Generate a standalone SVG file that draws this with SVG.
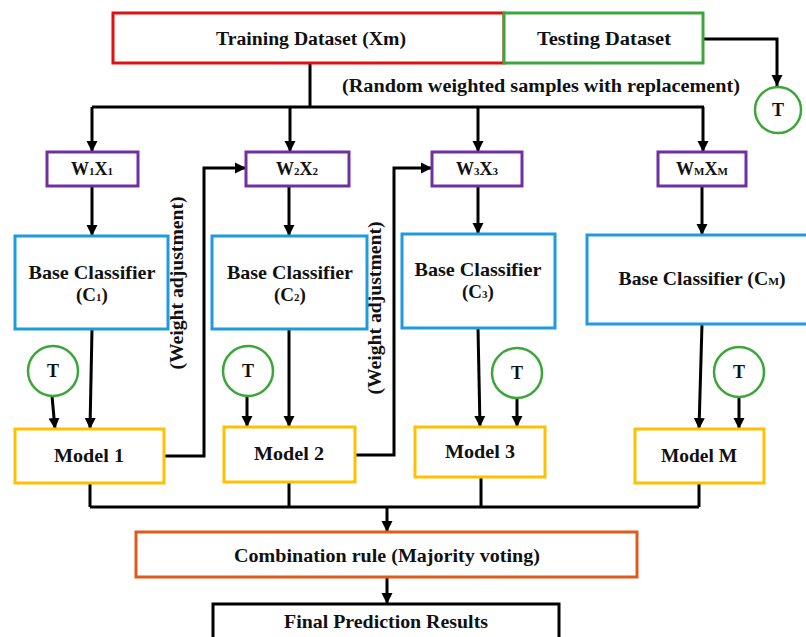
<svg xmlns="http://www.w3.org/2000/svg" width="806" height="637" viewBox="0 0 806 637">
<defs>
<marker id="ah" markerUnits="userSpaceOnUse" markerWidth="12" markerHeight="12" refX="11" refY="6" orient="auto">
<path d="M0,0.5 L11,6 L0,11.5 z" fill="#000"/>
</marker>
<style>
text{font-family:"Liberation Serif","DejaVu Serif",serif;font-weight:bold;fill:#111;}
.box{fill:#fff;stroke-width:3;}
.red{stroke:#E01010;}
.green{stroke:#3DA63A;}
.purple{stroke:#7030A0;}
.blue{stroke:#1E9BDE;}
.gold{stroke:#FFC000;}
.orange{stroke:#E05A1C;}
.black{stroke:#000;}
.tc{fill:#fff;stroke:#3DA63A;stroke-width:2.5;}
.c{fill:none;stroke:#000;stroke-width:3;}
.a{fill:none;stroke:#000;stroke-width:3;marker-end:url(#ah);}
.t17{font-size:18px;text-anchor:middle;}
.t18{font-size:19px;text-anchor:middle;}
.sub{font-size:11px;}
</style>
</defs>

<g id="connectors">
<path class="a" d="M703,39 H777 V86"/>
<path class="c" d="M310,63 V107"/>
<path class="c" d="M92,107 H704"/>
<path class="a" d="M92,107 V152"/>
<path class="a" d="M290,107 V152"/>
<path class="a" d="M478,107 V152"/>
<path class="a" d="M703,107 V152"/>
<path class="a" d="M92,186 V236"/>
<path class="a" d="M289,186 V236"/>
<path class="a" d="M478,186 V234"/>
<path class="a" d="M702,186 V235"/>
<path class="a" d="M52,396 L55,429"/>
<path class="a" d="M92,329 L90,429"/>
<path class="a" d="M247,396 V427"/>
<path class="a" d="M289,329 V427"/>
<path class="a" d="M478,328 L480,427"/>
<path class="a" d="M517,398 V427"/>
<path class="a" d="M702,324 L699,429"/>
<path class="a" d="M739,397 V429"/>
<path class="a" d="M164,456 H204 V168 H246"/>
<path class="a" d="M355,455 H394 V168 H432"/>
<path class="c" d="M90,483 V507 M289,482 V507 M481,477 V507 M699,483 V507"/>
<path class="c" d="M90,507 H699"/>
<path class="a" d="M387,507 V532"/>
<path class="a" d="M387,577 V604"/>
</g>

<text class="t17" x="541" y="92" textLength="398" lengthAdjust="spacingAndGlyphs">(Random weighted samples with replacement)</text>
<text class="t17" transform="translate(183,283) rotate(-90)" textLength="173" lengthAdjust="spacingAndGlyphs">(Weight adjustment)</text>
<text class="t17" transform="translate(381,308) rotate(-90)" textLength="173" lengthAdjust="spacingAndGlyphs">(Weight adjustment)</text>

<g id="training">
<rect class="box red" x="113" y="13" width="391" height="50"/>
<text class="t17" x="311" y="45" textLength="190" lengthAdjust="spacingAndGlyphs">Training Dataset (Xm)</text>
</g>
<g id="testing">
<rect class="box green" x="504" y="13" width="199" height="50"/>
<text class="t17" x="604" y="45" textLength="134" lengthAdjust="spacingAndGlyphs">Testing Dataset</text>
</g>
<g id="t0">
<circle class="tc" cx="778" cy="110" r="23"/>
<text class="t17" x="778" y="116">T</text>
</g>

<g id="w1">
<rect class="box purple" x="47" y="152" width="91" height="34"/>
<text class="t17" x="92" y="175">W<tspan class="sub">1</tspan>X<tspan class="sub">1</tspan></text>
</g>
<g id="w2">
<rect class="box purple" x="246" y="152" width="103" height="34"/>
<text class="t17" x="297" y="175">W<tspan class="sub">2</tspan>X<tspan class="sub">2</tspan></text>
</g>
<g id="w3">
<rect class="box purple" x="432" y="152" width="90" height="34"/>
<text class="t17" x="477" y="175">W<tspan class="sub">3</tspan>X<tspan class="sub">3</tspan></text>
</g>
<g id="wm">
<rect class="box purple" x="658" y="152" width="88" height="34"/>
<text class="t17" x="702" y="175">W<tspan class="sub">M</tspan>X<tspan class="sub">M</tspan></text>
</g>

<g id="c1">
<rect class="box blue" x="15" y="236" width="153" height="93"/>
<text class="t18" x="92" y="279" textLength="127" lengthAdjust="spacingAndGlyphs">Base Classifier</text>
<text class="t18" x="92" y="301">(C<tspan class="sub">1</tspan>)</text>
</g>
<g id="c2">
<rect class="box blue" x="212" y="236" width="155" height="93"/>
<text class="t18" x="290" y="279" textLength="126" lengthAdjust="spacingAndGlyphs">Base Classifier</text>
<text class="t18" x="290" y="301">(C<tspan class="sub">2</tspan>)</text>
</g>
<g id="c3">
<rect class="box blue" x="402" y="234" width="153" height="94"/>
<text class="t18" x="478" y="276" textLength="127" lengthAdjust="spacingAndGlyphs">Base Classifier</text>
<text class="t18" x="478" y="298">(C<tspan class="sub">3</tspan>)</text>
</g>
<g id="cm">
<rect class="box blue" x="587" y="235" width="224" height="89"/>
<text class="t18" x="702" y="285" textLength="167" lengthAdjust="spacingAndGlyphs">Base Classifier (C<tspan class="sub">M</tspan>)</text>
</g>

<g id="tc1">
<circle class="tc" cx="53" cy="371" r="25"/>
<text class="t17" x="53" y="377">T</text>
</g>
<g id="tc2">
<circle class="tc" cx="248" cy="371" r="25"/>
<text class="t17" x="248" y="377">T</text>
</g>
<g id="tc3">
<circle class="tc" cx="517" cy="373" r="25"/>
<text class="t17" x="517" y="379">T</text>
</g>
<g id="tcm">
<circle class="tc" cx="739" cy="372" r="25"/>
<text class="t17" x="739" y="378">T</text>
</g>

<g id="m1">
<rect class="box gold" x="15" y="429" width="149" height="54"/>
<text class="t18" x="89" y="462" textLength="70" lengthAdjust="spacingAndGlyphs">Model 1</text>
</g>
<g id="m2">
<rect class="box gold" x="224" y="427" width="131" height="55"/>
<text class="t18" x="289" y="460" textLength="70" lengthAdjust="spacingAndGlyphs">Model 2</text>
</g>
<g id="m3">
<rect class="box gold" x="415" y="427" width="130" height="50"/>
<text class="t18" x="480" y="458" textLength="70" lengthAdjust="spacingAndGlyphs">Model 3</text>
</g>
<g id="mm">
<rect class="box gold" x="635" y="429" width="129" height="54"/>
<text class="t18" x="699" y="462" textLength="76" lengthAdjust="spacingAndGlyphs">Model M</text>
</g>

<g id="combination">
<rect class="box orange" x="136" y="532" width="501" height="45"/>
<text class="t18" x="387" y="562" textLength="306" lengthAdjust="spacingAndGlyphs">Combination rule (Majority voting)</text>
</g>
<g id="final">
<rect class="box black" x="213" y="604" width="346" height="45"/>
<text class="t18" x="386" y="628" textLength="204" lengthAdjust="spacingAndGlyphs">Final Prediction Results</text>
</g>
</svg>
